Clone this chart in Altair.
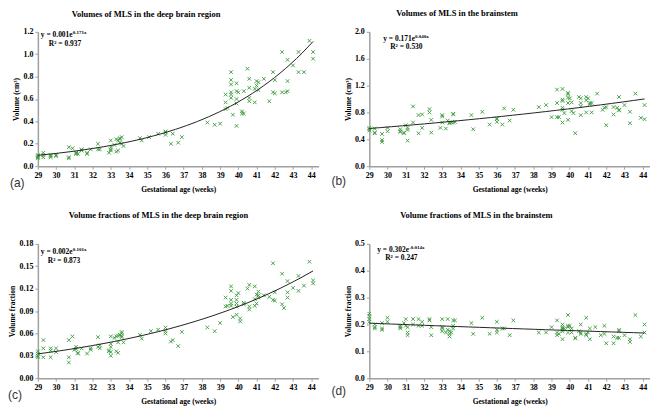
import altair as alt
import pandas as pd

# ---------------- data ----------------
ages_a = [29.0, 29.0, 29.0, 29.0, 29.3, 29.3, 29.3, 29.7, 29.7, 29.7, 30.0, 30.0,
          30.7, 30.7, 30.7, 30.9, 31.1, 31.1, 31.1, 31.2, 31.4, 31.4, 31.7, 31.7, 31.9,
          32.3, 32.3, 32.4, 32.9, 33.0, 33.0, 33.0, 33.0, 33.2, 33.3, 33.3, 33.4, 33.4,
          33.5, 33.5, 33.5, 33.6, 33.6, 33.7, 34.6, 34.7, 35.1, 35.6, 36.0, 36.0, 36.0,
          36.3, 36.4, 36.7, 36.9, 38.3, 38.7, 39.0, 39.3, 39.3, 39.3, 39.4,
          39.6, 39.6, 39.6, 39.6, 39.6, 39.6, 39.7, 39.9, 39.9, 39.9, 39.9, 39.9, 40.0,
          40.2, 40.2, 40.3, 40.3, 40.5, 40.6, 40.6, 40.6, 40.6, 40.9, 40.9, 41.0, 41.0,
          41.1, 41.1, 41.4, 41.7, 41.9, 41.9, 42.0, 42.0, 42.4, 42.4, 42.6, 42.7, 42.7,
          42.7, 43.0, 43.3, 43.3, 43.6, 43.9, 44.1, 44.1]
vol_a = [0.07, 0.09, 0.10, 0.08, 0.12, 0.10, 0.08, 0.10, 0.09, 0.08, 0.10, 0.09,
         0.17, 0.08, 0.07, 0.16, 0.12, 0.11, 0.12, 0.11, 0.15, 0.14, 0.11, 0.12, 0.15,
         0.20, 0.15, 0.15, 0.12, 0.23, 0.17, 0.15, 0.14, 0.19, 0.24, 0.13, 0.14, 0.23,
         0.25, 0.24, 0.21, 0.26, 0.20, 0.18, 0.25, 0.23, 0.26, 0.29, 0.31, 0.30, 0.28,
         0.20, 0.29, 0.21, 0.26, 0.39, 0.37, 0.38, 0.64, 0.57, 0.51, 0.52,
         0.84, 0.77, 0.73, 0.66, 0.64, 0.61, 0.46, 0.74, 0.67, 0.60, 0.56, 0.36, 0.66,
         0.49, 0.47, 0.67, 0.47, 0.87, 0.78, 0.70, 0.61, 0.58, 0.69, 0.57, 0.76, 0.72,
         0.75, 0.68, 0.78, 0.58, 0.84, 0.66, 0.77, 0.65, 1.02, 0.66, 0.66, 0.95, 0.76,
         0.67, 0.90, 1.02, 0.84, 0.84, 1.12, 1.02, 0.96]

ages_b = [29.0, 29.0, 29.0, 29.3, 29.3, 29.3, 29.7, 29.7, 29.7, 30.0, 30.0,
          30.7, 30.7, 30.7, 30.9, 30.9, 31.0, 31.1, 31.1, 31.1, 31.4, 31.4, 31.7, 31.7,
          31.9, 31.9, 32.3, 32.3, 32.4, 32.4, 32.9, 33.0, 33.0, 33.0, 33.2, 33.3, 33.4,
          33.4, 33.5, 33.6, 33.6, 33.6, 33.7, 34.6, 34.7, 35.2, 35.6, 36.0, 36.0, 36.0,
          36.3, 36.4, 36.7, 36.9, 38.3, 38.7, 39.0, 39.3, 39.3, 39.3, 39.4,
          39.6, 39.6, 39.6, 39.6, 39.6, 39.6, 39.7, 39.9, 39.9, 39.9, 39.9, 39.9, 40.0,
          40.1, 40.1, 40.2, 40.3, 40.5, 40.6, 40.6, 40.6, 40.6, 40.9, 40.9, 40.9, 41.0,
          41.1, 41.1, 41.2, 41.2, 41.5, 41.8, 41.9, 42.0, 42.0, 42.4, 42.4, 42.6, 42.7,
          42.7, 42.7, 43.0, 43.3, 43.3, 43.6, 43.9, 44.1, 44.1]
vol_b = [0.57, 0.55, 0.53, 0.56, 0.50, 0.49, 0.48, 0.39, 0.36, 0.57, 0.52,
         0.55, 0.52, 0.51, 0.49, 0.50, 0.61, 0.57, 0.54, 0.38, 0.89, 0.65, 0.76, 0.49,
         0.77, 0.57, 0.85, 0.80, 0.69, 0.50, 0.57, 0.76, 0.74, 0.65, 0.56, 0.68, 0.65,
         0.64, 0.65, 0.78, 0.77, 0.65, 0.66, 0.76, 0.55, 0.81, 0.62, 0.71, 0.70, 0.66,
         0.62, 0.86, 0.68, 0.84, 0.88, 0.91, 0.73, 1.14, 0.94, 0.73, 0.73,
         1.15, 0.99, 0.97, 0.87, 0.84, 0.65, 0.79, 1.09, 1.07, 1.02, 0.94, 0.69, 1.01,
         0.95, 0.82, 0.79, 0.49, 1.03, 1.01, 0.94, 0.89, 0.76, 1.03, 0.98, 0.80, 1.01,
         0.94, 0.92, 0.94, 0.80, 1.08, 0.84, 0.87, 0.88, 0.61, 0.88, 0.77, 0.87, 1.03,
         0.84, 0.83, 0.91, 0.81, 0.64, 1.08, 0.72, 0.91, 0.70]

ages_c = [29.0, 29.0, 29.0, 29.0, 29.3, 29.3, 29.3, 29.7, 29.7, 29.7, 30.0, 30.0,
          30.7, 30.7, 30.7, 30.9, 31.0, 31.1, 31.1, 31.2, 31.2, 31.4, 31.7, 31.9, 31.9,
          32.3, 32.3, 32.4, 32.4, 32.9, 32.9, 33.0, 33.0, 33.0, 33.0, 33.0, 33.2, 33.3,
          33.3, 33.4, 33.4, 33.4, 33.5, 33.6, 33.6, 33.6, 33.6, 33.7, 34.6, 34.7, 35.2,
          35.6, 36.0, 36.0, 36.0, 36.3, 36.4, 36.7, 36.9, 38.3, 38.7, 39.0, 39.3, 39.3,
          39.4, 39.6, 39.6, 39.6, 39.6, 39.6, 39.7, 39.9, 39.9, 39.9, 39.9, 39.9, 40.0,
          40.1, 40.1, 40.3, 40.3, 40.5, 40.6, 40.6, 40.6, 40.9, 40.9, 40.9, 41.0, 41.0,
          41.1, 41.1, 41.1, 41.4, 41.7, 41.9, 41.9, 42.0, 42.0, 42.4, 42.4, 42.5, 42.7,
          42.7, 42.7, 43.0, 43.3, 43.3, 43.6, 43.9, 44.1, 44.1]
frac_c = [0.036, 0.033, 0.030, 0.028, 0.051, 0.040, 0.028, 0.040, 0.037, 0.028, 0.040, 0.035,
          0.051, 0.028, 0.021, 0.056, 0.038, 0.042, 0.039, 0.034, 0.033, 0.040, 0.033, 0.040, 0.038,
          0.055, 0.042, 0.044, 0.040, 0.037, 0.036, 0.056, 0.046, 0.042, 0.035, 0.030, 0.054, 0.056,
          0.036, 0.057, 0.048, 0.034, 0.058, 0.062, 0.060, 0.057, 0.055, 0.048, 0.058, 0.053, 0.063,
          0.065, 0.068, 0.063, 0.060, 0.049, 0.051, 0.043, 0.062, 0.068, 0.063, 0.074, 0.108, 0.096,
          0.097, 0.123, 0.117, 0.105, 0.100, 0.097, 0.082, 0.111, 0.105, 0.100, 0.096, 0.085, 0.114,
          0.080, 0.076, 0.101, 0.099, 0.120, 0.125, 0.096, 0.092, 0.123, 0.106, 0.097, 0.112, 0.100,
          0.116, 0.111, 0.108, 0.111, 0.109, 0.154, 0.105, 0.115, 0.104, 0.140, 0.099, 0.094, 0.130,
          0.115, 0.108, 0.121, 0.137, 0.117, 0.124, 0.156, 0.131, 0.127]

ages_d = [29.0, 29.0, 29.0, 29.0, 29.3, 29.3, 29.3, 29.7, 29.7, 29.7, 30.0, 30.0,
          30.7, 30.7, 30.7, 30.9, 31.0, 31.0, 31.1, 31.1, 31.1, 31.4, 31.4, 31.7, 31.7,
          31.9, 31.9, 32.3, 32.3, 32.4, 32.4, 33.0, 33.0, 33.0, 33.0, 33.2, 33.3, 33.3,
          33.4, 33.4, 33.4, 33.5, 33.6, 33.6, 33.6, 33.7, 34.6, 34.7, 35.2, 35.6, 36.0,
          36.0, 36.0, 36.3, 36.4, 36.7, 36.9, 38.3, 38.7, 39.0, 39.3, 39.3, 39.3, 39.4,
          39.6, 39.6, 39.6, 39.6, 39.6, 39.6, 39.7, 39.9, 39.9, 39.9, 39.9, 40.0, 40.1,
          40.1, 40.3, 40.3, 40.5, 40.6, 40.6, 40.6, 40.9, 40.9, 40.9, 41.0, 41.1, 41.1,
          41.4, 41.7, 41.9, 41.9, 42.0, 42.4, 42.4, 42.6, 42.7, 42.7, 42.7, 43.0, 43.3,
          43.3, 43.6, 43.9, 44.1, 44.1]
frac_d = [0.240, 0.230, 0.220, 0.210, 0.200, 0.190, 0.185, 0.205, 0.185, 0.180, 0.225, 0.210,
          0.195, 0.190, 0.185, 0.205, 0.220, 0.195, 0.190, 0.170, 0.160, 0.220, 0.200, 0.220, 0.195,
          0.210, 0.195, 0.220, 0.215, 0.190, 0.160, 0.220, 0.190, 0.185, 0.175, 0.170, 0.220, 0.180,
          0.175, 0.165, 0.155, 0.170, 0.215, 0.195, 0.185, 0.215, 0.205, 0.165, 0.225, 0.165, 0.210,
          0.180, 0.170, 0.185, 0.185, 0.160, 0.215, 0.170, 0.170, 0.190, 0.215, 0.170, 0.160, 0.165,
          0.200, 0.190, 0.185, 0.180, 0.175, 0.145, 0.185, 0.235, 0.195, 0.190, 0.170, 0.195, 0.185,
          0.170, 0.150, 0.148, 0.175, 0.200, 0.170, 0.165, 0.225, 0.165, 0.160, 0.170, 0.185, 0.145,
          0.190, 0.160, 0.195, 0.165, 0.130, 0.155, 0.130, 0.150, 0.180, 0.175, 0.150, 0.160, 0.145,
          0.135, 0.235, 0.155, 0.200, 0.170]

x_ticks = list(range(29, 45))

GREEN = "#3a9a3a"
SERIF = "Liberation Serif"
W, H = 282, 135
CROSS = "M-1,-1L1,1M-1,1L1,-1"


def panel(ages, vals, title, ytitle, ydom, yticks, yfmt, eq_main, eq_sup, r2, label,
          eq_dx, eq_dy, r2_dx, r2_dy, title_dx, title_dy, lab_dx, lab_dy, sup_dx):
    df = pd.DataFrame({"age": ages, "value": vals})
    xenc = alt.X("age:Q", scale=alt.Scale(domain=[29, 44.4], nice=False, zero=False),
                 axis=alt.Axis(values=x_ticks, tickCount=len(x_ticks), format="d",
                               title="Gestational age (weeks)",
                               labelOverlap=False, labelFlush=False))
    yenc = alt.Y("value:Q", scale=alt.Scale(domain=ydom, nice=False, zero=False),
                 axis=alt.Axis(values=yticks, tickCount=len(yticks), format=yfmt,
                               title=ytitle, labelOverlap=False, labelFlush=False))
    pts = alt.Chart(df).mark_point(shape=CROSS, size=13, strokeWidth=0.9, color=GREEN,
                                   opacity=1).encode(x=xenc, y=yenc)
    fit = alt.Chart(df).transform_regression("age", "value", method="exp").mark_line(
        color="#222222", strokeWidth=1).encode(x="age:Q", y="value:Q")

    def txt(t, x, y, size=7.5, font=SERIF, weight="bold", color="black"):
        return alt.Chart(pd.DataFrame({"t": [t]})).mark_text(
            align="left", baseline="middle", font=font, fontSize=size, fontWeight=weight,
            color=color).encode(x=alt.value(x), y=alt.value(y), text="t:N")

    ttl = txt(title, title_dx, -title_dy, size=8.5)
    eq1 = txt(eq_main, eq_dx, eq_dy)
    eq1s = txt(eq_sup, eq_dx + sup_dx, eq_dy - 3, size=5)
    eq2 = txt(r2, r2_dx, r2_dy)
    lab = txt(label, lab_dx, H + lab_dy, size=12, font="Liberation Sans", weight="normal",
              color="#333333")
    return alt.layer(pts, fit, ttl, eq1, eq1s, eq2, lab).properties(width=W, height=H)


pa = panel(ages_a, vol_a, "Volumes of MLS in the deep brain region", "Volume (cm³)",
           [0, 1.2], [0, 0.2, 0.4, 0.6, 0.8, 1.0, 1.2], ".1f",
           "y = 0.001e", "0.171x", "R² = 0.937", "(a)",
           3, 3, 11, 12, 34, 18, -28, 17, 32)
pb = panel(ages_b, vol_b, "Volumes of MLS in the brainstem", "Volume (cm³)",
           [0, 2.0], [0, 0.4, 0.8, 1.2, 1.6, 2.0], ".1f",
           "y = 0.171e", "0.040x", "R² = 0.530", "(b)",
           14, 7, 21, 15, 27, 19, -38, 15, 32)
pc = panel(ages_c, frac_c, "Volume fractions of MLS in the deep brain region", "Volume fraction",
           [0, 0.18], [0, 0.03, 0.06, 0.09, 0.12, 0.15, 0.18], ".2f",
           "y = 0.002e", "0.101x", "R² = 0.873", "(c)",
           3, 8, 10, 17, 31, 29, -30, 17, 32)
pd_ = panel(ages_d, frac_d, "Volume fractions of MLS in the brainstem", "Volume fraction",
            [0, 0.5], [0, 0.1, 0.2, 0.3, 0.4, 0.5], ".1f",
            "y = 0.302e", "-0.014x", "R² = 0.247", "(d)",
            8, 6, 16, 14, 31, 29, -38, 13, 32)

chart = alt.concat(pa, pb, pc, pd_, columns=2, bounds="flush",
                   spacing={"row": 78, "column": 51}).properties(padding=0).configure_view(
    stroke=None).configure_axis(
    grid=False, domainColor="#a0a0a0", domainWidth=1.5, tickColor="#a0a0a0", tickSize=3,
    labelFont=SERIF, labelFontSize=8, labelFontWeight="bold", labelColor="black",
    labelPadding=2, labelOverlap=False, labelFlush=False, titleFont=SERIF,
    titleFontSize=7.5, titleFontWeight="bold", titleColor="black").configure_axisX(
    titlePadding=6).configure_axisY(titlePadding=2)

chart.save("out.html", embed_options={"renderer": "svg", "actions": False})
